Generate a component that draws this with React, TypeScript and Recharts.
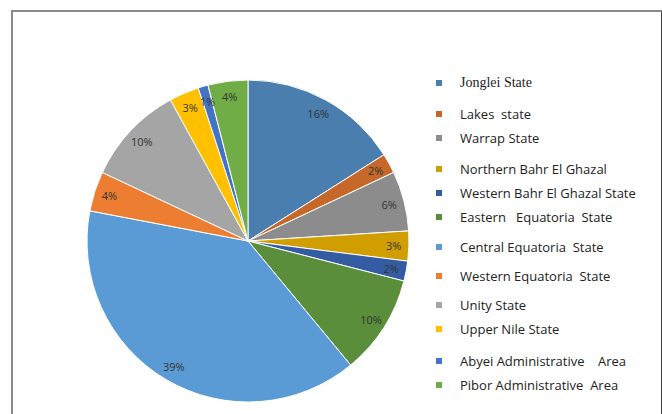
import React from 'react';
import { PieChart, Pie, Cell, Legend } from 'recharts';

const states = [
  'Jonglei State',
  'Lakes  state',
  'Warrap State',
  'Northern Bahr El Ghazal',
  'Western Bahr El Ghazal State',
  'Eastern   Equatoria  State',
  'Central Equatoria  State',
  'Western Equatoria  State',
  'Unity State',
  'Upper Nile State',
  'Abyei Administrative    Area',
  'Pibor Administrative  Area',
];
const shares = [16, 2, 6, 3, 2, 10, 39, 4, 10, 3, 1, 4];
const colors = [
  '#4a7eaf', '#c5682a', '#8c8c8c', '#d09e00', '#345ca3', '#5a8e3a',
  '#5b9bd5', '#ed7d31', '#a5a5a5', '#ffc000', '#4472c4', '#70ad47',
];
const legendTops = [83, 114, 138, 169, 193, 217, 247, 276, 305, 329, 361, 385];

const data = states.map((name, i) => ({ name, value: shares[i] }));

const RAD = Math.PI / 180;
const renderLabel = (p: any) => {
  const r = p.outerRadius * 0.905;
  const x = p.cx + r * Math.cos(-p.midAngle * RAD);
  const y = p.cy + r * Math.sin(-p.midAngle * RAD);
  return (
    <text
      x={x}
      y={y}
      textAnchor="middle"
      dominantBaseline="central"
      fill="#333"
      fontSize={11}
      fontFamily="'Open Sans', sans-serif"
    >
      {`${p.value}%`}
    </text>
  );
};

const LegendContent = (props: any) => {
  const payload = (props.payload || [])
    .slice()
    .sort((a: any, b: any) => states.indexOf(a.value) - states.indexOf(b.value));
  return (
    <div style={{ position: 'relative', width: 230, height: 340 }}>
      {payload.map((entry: any, i: number) => (
        <div
          key={i}
          style={{
            position: 'absolute',
            left: 0,
            top: legendTops[i] - 70 - 10,
            height: 20,
            display: 'flex',
            alignItems: 'center',
          }}
        >
          <span
            style={{
              display: 'inline-block',
              width: 6,
              height: 6,
              background: entry.color,
              marginLeft: 6,
              marginRight: 18,
            }}
          />
          <span
            style={{
              whiteSpace: 'pre',
              color: '#222',
              fontSize: i === 0 ? 14 : 13,
              fontFamily: i === 0 ? "'Liberation Serif', serif" : "'Open Sans', sans-serif",
            }}
          >
            {entry.value}
          </span>
        </div>
      ))}
    </div>
  );
};

export default function App() {
  return (
    <div
      style={{
        position: 'absolute',
        left: 0,
        top: 0,
        width: 662,
        height: 414,
        overflow: 'hidden',
        background: '#fff',
      }}
    >
      <div
        style={{
          position: 'absolute',
          left: 11,
          top: 10,
          width: 648,
          height: 430,
          borderLeft: '2px solid #8a8a8a',
          borderTop: '2px solid #8a8a8a',
          borderRight: '2px solid #444',
        }}
      />
      <div style={{ position: 'absolute', left: 0, top: 0 }}>
        <PieChart width={662} height={414} margin={{ top: 0, right: 0, bottom: 0, left: 0 }}>
          <Pie
            data={data}
            dataKey="value"
            nameKey="name"
            cx={248}
            cy={241}
            outerRadius={161}
            startAngle={90}
            endAngle={-270}
            stroke="#fff"
            strokeWidth={1}
            label={renderLabel}
            labelLine={false}
            isAnimationActive={false}
          >
            {data.map((d, i) => (
              <Cell key={d.name} fill={colors[i]} />
            ))}
          </Pie>
          <Legend
            layout="vertical"
            verticalAlign="middle"
            align="right"
            itemSorter={null as any}
            content={<LegendContent />}
            wrapperStyle={{ left: 430, top: 70, width: 230 }}
          />
        </PieChart>
      </div>
    </div>
  );
}
